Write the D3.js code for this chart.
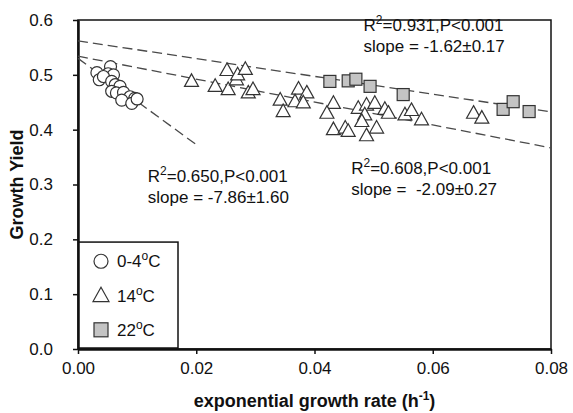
<!DOCTYPE html>
<html>
<head>
<meta charset="utf-8">
<script src="https://cdn.jsdelivr.net/npm/d3@7/dist/d3.min.js"></script>
<style>
  body { margin: 0; background: #fff; }
  text { font-family: Arial, "Liberation Sans", sans-serif; fill: #111; }
</style>
</head>
<body>
<script>
"use strict";

const width = 573;
const height = 413;
const margin = { top: 20, right: 22, bottom: 64, left: 78 };

// 0-4 C (circles)
const coldRate = [0.0032, 0.0055, 0.0051, 0.0060, 0.0036, 0.0043, 0.0057, 0.0063, 0.0071,
  0.0057, 0.0065, 0.0077, 0.0088, 0.0096, 0.0074, 0.0091, 0.0100];
const coldYield = [0.504, 0.515, 0.502, 0.500, 0.491, 0.497, 0.488, 0.482, 0.479,
  0.470, 0.467, 0.468, 0.460, 0.457, 0.454, 0.448, 0.456];

// 14 C (triangles)
const midRate = [0.0192, 0.0232, 0.0254, 0.0268, 0.0288, 0.0296, 0.0252, 0.0270, 0.0283,
  0.0342, 0.0347, 0.0373,
  0.0387, 0.0367, 0.0381, 0.0432, 0.0421, 0.0474, 0.0488, 0.0502, 0.0519, 0.0525, 0.0485,
  0.0480, 0.0432, 0.0452, 0.0457, 0.0505, 0.0488, 0.0553, 0.0564, 0.0581, 0.0669, 0.0683];
const midYield = [0.488, 0.479, 0.473, 0.491, 0.467, 0.473, 0.508, 0.500, 0.510,
  0.454, 0.433, 0.474,
  0.467, 0.451, 0.449, 0.448, 0.430, 0.439, 0.445, 0.448, 0.437, 0.430, 0.427,
  0.415, 0.400, 0.403, 0.397, 0.403, 0.389, 0.427, 0.435, 0.418, 0.430, 0.421];

// 22 C (squares)
const warmRate = [0.0426, 0.0457, 0.0470, 0.0494, 0.0550, 0.0719, 0.0736, 0.0763];
const warmYield = [0.488, 0.489, 0.492, 0.479, 0.464, 0.437, 0.451, 0.433];

// regression lines: intercept, slope, last x
const fitIntercept = [0.530, 0.534, 0.562];
const fitSlope = [-7.86, -2.09, -1.62];
const fitEnd = [0.02, 0.08, 0.08];

const xTicks = [0, 0.02, 0.04, 0.06, 0.08];
const yTicks = [0, 0.1, 0.2, 0.3, 0.4, 0.5, 0.6];
const legendLabels = ["0-4", "14", "22"];

const svg = d3
  .select("body")
  .append("svg")
  .attr("width", width)
  .attr("height", height);

const x = d3.scaleLinear().domain([0, 0.08]).range([margin.left, width - margin.right]);
const y = d3.scaleLinear().domain([0, 0.6]).range([height - margin.bottom, margin.top]);

// frame
svg
  .append("rect")
  .attr("x", x(0))
  .attr("y", y(0.6))
  .attr("width", x(0.08) - x(0))
  .attr("height", y(0) - y(0.6))
  .attr("fill", "none")
  .attr("stroke", "#111")
  .attr("stroke-width", 1.5);

const xAxis = svg
  .append("g")
  .attr("transform", "translate(0," + y(0) + ")")
  .call(d3.axisBottom(x).tickValues(xTicks).tickFormat(d3.format(".2f")).tickSize(5).tickSizeOuter(0));
const yAxis = svg
  .append("g")
  .attr("transform", "translate(" + x(0) + ",0)")
  .call(d3.axisLeft(y).tickValues(yTicks).tickFormat(d3.format(".1f")).tickSize(5).tickSizeOuter(0));

[xAxis, yAxis].forEach(function (g) {
  g.select(".domain").attr("stroke", "#111").attr("stroke-width", 2.5);
  g.selectAll(".tick line").attr("stroke", "#111").attr("stroke-width", 1.5);
  g.selectAll(".tick text")
    .attr("font-family", "Arial, 'Liberation Sans', sans-serif")
    .attr("font-size", 17)
    .attr("fill", "#222");
});
xAxis.selectAll(".tick text").attr("dy", "1.0em");
yAxis.selectAll(".tick text").attr("dx", "-1.0em");

// regression lines
svg
  .selectAll("line.fit")
  .data(fitSlope)
  .enter()
  .append("line")
  .attr("class", "fit")
  .attr("x1", x(0))
  .attr("y1", function (d, i) { return y(fitIntercept[i]); })
  .attr("x2", function (d, i) { return x(fitEnd[i]); })
  .attr("y2", function (d, i) { return y(fitIntercept[i] + d * fitEnd[i]); })
  .attr("stroke", "#4a4a4a")
  .attr("stroke-width", 1.3)
  .attr("stroke-dasharray", "10,5");

const mark = { stroke: "#333", width: 1.2 };

function triPath(cx, cy, s) {
  const h = s * 0.9;
  return "M" + cx + "," + (cy - h * 0.6) + "L" + (cx + s / 2) + "," + (cy + h * 0.4) +
    "L" + (cx - s / 2) + "," + (cy + h * 0.4) + "Z";
}

svg
  .append("g")
  .selectAll("circle")
  .data(coldRate)
  .enter()
  .append("circle")
  .attr("cx", function (d) { return x(d); })
  .attr("cy", function (d, i) { return y(coldYield[i]); })
  .attr("r", 6)
  .attr("fill", "#fff")
  .attr("stroke", mark.stroke)
  .attr("stroke-width", mark.width);

svg
  .append("g")
  .selectAll("path")
  .data(midRate)
  .enter()
  .append("path")
  .attr("d", function (d, i) { return triPath(x(d), y(midYield[i]), 14); })
  .attr("fill", "#fff")
  .attr("stroke", mark.stroke)
  .attr("stroke-width", mark.width);

svg
  .append("g")
  .selectAll("rect")
  .data(warmRate)
  .enter()
  .append("rect")
  .attr("x", function (d) { return x(d) - 6; })
  .attr("y", function (d, i) { return y(warmYield[i]) - 6; })
  .attr("width", 12)
  .attr("height", 12)
  .attr("fill", "#c4c4c4")
  .attr("stroke", mark.stroke)
  .attr("stroke-width", mark.width);

// annotations
function statText(px, py, r2, slope) {
  const t1 = svg.append("text").attr("x", px).attr("y", py).attr("font-size", 17);
  t1.append("tspan").text("R");
  t1.append("tspan").text("2").attr("font-size", 12).attr("dy", -7);
  t1.append("tspan").text("=" + r2 + ",P<0.001").attr("dy", 7);
  svg.append("text").attr("x", px).attr("y", py + 21).attr("font-size", 17).text("slope = " + slope);
}
statText(x(0.0118), y(0.305), "0.650", "-7.86\u00b11.60");
statText(x(0.0462), y(0.32), "0.608", "\u00a0-2.09\u00b10.27");
statText(x(0.0483), y(0.58), "0.931", "-1.62\u00b10.17");

// legend
const lg = svg.append("g");
lg.append("rect")
  .attr("x", x(0) + 1)
  .attr("y", y(0.195))
  .attr("width", 99)
  .attr("height", y(0) - y(0.195) - 1)
  .attr("fill", "#fff")
  .attr("stroke", "#111")
  .attr("stroke-width", 1.5);

const ly = [y(0.16), y(0.097), y(0.035)];
lg.append("circle").attr("cx", 101).attr("cy", ly[0]).attr("r", 7)
  .attr("fill", "#fff").attr("stroke", mark.stroke).attr("stroke-width", mark.width);
lg.append("path").attr("d", triPath(101, ly[1], 16))
  .attr("fill", "#fff").attr("stroke", mark.stroke).attr("stroke-width", mark.width);
lg.append("rect").attr("x", 94).attr("y", ly[2] - 7).attr("width", 14).attr("height", 14)
  .attr("fill", "#c4c4c4").attr("stroke", mark.stroke).attr("stroke-width", mark.width);

legendLabels.forEach(function (d, i) {
  const t = lg.append("text").attr("x", 117).attr("y", ly[i] + 6).attr("font-size", 17);
  t.append("tspan").text(d);
  t.append("tspan").text("o").attr("font-size", 12).attr("dy", -7);
  t.append("tspan").text("C").attr("dy", 7);
});

// axis titles
const xt = svg.append("text")
  .attr("x", (x(0) + x(0.08)) / 2)
  .attr("y", 407)
  .attr("text-anchor", "middle")
  .attr("font-size", 18)
  .attr("font-weight", "bold");
xt.append("tspan").text("exponential growth rate (h");
xt.append("tspan").text("-1").attr("font-size", 12).attr("dy", -7);
xt.append("tspan").text(")").attr("dy", 7);

svg.append("text")
  .attr("transform", "translate(17," + (y(0.3)) + ") rotate(-90)")
  .attr("text-anchor", "middle")
  .attr("dy", "0.35em")
  .attr("font-size", 18)
  .attr("font-weight", "bold")
  .text("Growth Yield");
</script>
</body>
</html>
